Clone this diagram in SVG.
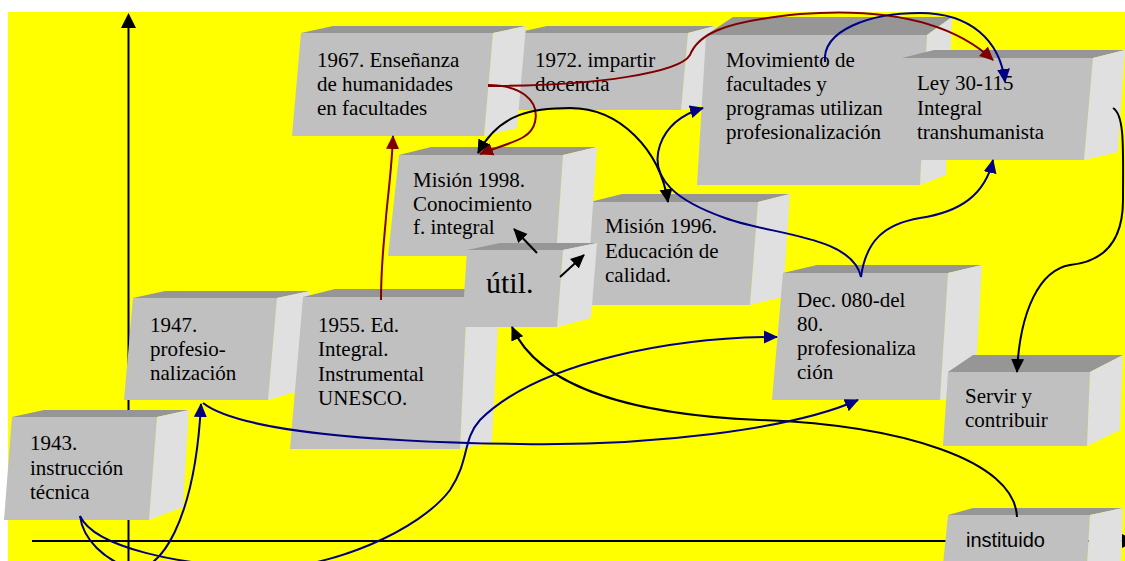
<svg xmlns="http://www.w3.org/2000/svg" width="1125" height="561" viewBox="0 0 1125 561">
<style>
.f{fill:#c0c0c0}
.t{fill:#969696}
.r{fill:#e0e0e0}
.txt{font-family:"Liberation Serif","Times New Roman",serif;font-size:21px;fill:#000}
.c{fill:none;stroke-width:2}
.k{stroke:#000}
.b{stroke:#000080}
.m{stroke:#800000}
.ax{stroke:#000;stroke-width:2;fill:none}
</style>
<defs>
<marker id="ak" viewBox="0 0 14 14" refX="13" refY="7" markerWidth="14" markerHeight="14" markerUnits="userSpaceOnUse" orient="auto-start-reverse"><path d="M0,0.5 L14,7 L0,13.5 z" fill="#000"/></marker>
<marker id="ab" viewBox="0 0 14 14" refX="13" refY="7" markerWidth="14" markerHeight="14" markerUnits="userSpaceOnUse" orient="auto-start-reverse"><path d="M0,0.5 L14,7 L0,13.5 z" fill="#000080"/></marker>
<marker id="am" viewBox="0 0 14 14" refX="13" refY="7" markerWidth="14" markerHeight="14" markerUnits="userSpaceOnUse" orient="auto-start-reverse"><path d="M0,0.5 L14,7 L0,13.5 z" fill="#800000"/></marker>
</defs>
<rect x="0" y="0" width="1125" height="561" fill="#ffffff"/>
<rect x="8" y="12" width="1117" height="549" fill="#ffff00"/>
<g id="axes">
<line class="ax" x1="128.5" y1="26" x2="128.5" y2="561"/>
<polygon points="128.5,13 121,28 136,28" fill="#000"/>
<line class="ax" x1="32" y1="541" x2="1122" y2="541"/>
</g>
<g id="n1972">
<polygon class="t" points="515,33 547,26 715,26 688,33"/>
<polygon class="r" points="688,33 715,26 710,104 681,110"/>
<polygon class="f" points="515,33 688,33 681,110 508,110"/>
<text class="txt" x="535" y="67">1972. impartir<tspan x="535" dy="24">docencia</tspan></text>
</g>
<g id="n1967">
<polygon class="t" points="301,33 333,26 526,26 493,33"/>
<polygon class="r" points="493,33 526,26 517,128 484,136"/>
<polygon class="f" points="301,33 493,33 484,136 292,136"/>
<text class="txt" x="317" y="67">1967. Enseñanza<tspan x="317" dy="24">de humanidades</tspan><tspan x="317" dy="24">en facultades</tspan></text>
</g>
<g id="nMov">
<polygon class="t" points="706,35 733,17 952,17 927,35"/>
<polygon class="r" points="927,35 952,17 946,175 920,185"/>
<polygon class="f" points="706,35 927,35 920,185 697,185"/>
<text class="txt" x="726" y="67">Movimiento de<tspan x="726" dy="24">facultades y</tspan><tspan x="726" dy="24">programas utilizan</tspan><tspan x="726" dy="24">profesionalización</tspan></text>
</g>
<g id="nLey">
<polygon class="t" points="902,58 934,50 1125,50 1093,58"/>
<polygon class="r" points="1093,58 1125,50 1118,152 1084,160"/>
<polygon class="f" points="902,58 1093,58 1084,160 893,160"/>
<text class="txt" x="917" y="90">Ley 30-115<tspan x="917" dy="24.5">Integral</tspan><tspan x="917" dy="24.5">transhumanista</tspan></text>
</g>
<g id="n1996">
<polygon class="t" points="590,202 622,194 790,194 758,202"/>
<polygon class="r" points="758,202 790,194 783,297 750,305"/>
<polygon class="f" points="590,202 758,202 750,305 582,305"/>
<text class="txt" x="605" y="233">Misión 1996.<tspan x="605" dy="24.5">Educación de</tspan><tspan x="605" dy="24.5">calidad.</tspan></text>
</g>
<g id="n1998">
<polygon class="t" points="399,155 431,147 597,147 563,155"/>
<polygon class="r" points="563,155 597,147 590,248 556,256"/>
<polygon class="f" points="399,155 563,155 556,256 388,256"/>
<text class="txt" x="413" y="187">Misión 1998.<tspan x="413" dy="23.5">Conocimiento</tspan><tspan x="413" dy="23.5">f. integral</tspan></text>
</g>
<g id="n1947">
<polygon class="t" points="133,298 165,291 310,291 277,298"/>
<polygon class="r" points="277,298 310,291 302,390 268,400"/>
<polygon class="f" points="133,298 277,298 268,400 124,400"/>
<text class="txt" x="150" y="332">1947.<tspan x="150" dy="24">profesio-</tspan><tspan x="150" dy="24">nalización</tspan></text>
</g>
<g id="n1955">
<polygon class="t" points="303,297 335,289 500,289 467,297"/>
<polygon class="r" points="467,297 500,289 492,442 460,449"/>
<polygon class="f" points="303,297 467,297 460,449 290,449"/>
<text class="txt" x="318" y="332">1955. Ed.<tspan x="318" dy="24.3">Integral.</tspan><tspan x="318" dy="24.3">Instrumental</tspan><tspan x="318" dy="24.3">UNESCO.</tspan></text>
</g>
<g id="nUtil">
<polygon class="t" points="467,250 500,243 597,243 563,250"/>
<polygon class="r" points="563,250 597,243 591,318 557,327"/>
<polygon class="f" points="467,250 563,250 557,327 462,327"/>
<text class="txt" x="486" y="293" style="font-size:30px">útil.</text>
</g>
<g id="n1943">
<polygon class="t" points="12,417 44,410 189,410 157,417"/>
<polygon class="r" points="157,417 189,410 183,507 149,520"/>
<polygon class="f" points="12,417 157,417 149,520 4,520"/>
<text class="txt" x="30" y="450">1943.<tspan x="30" dy="24.5">instrucción</tspan><tspan x="30" dy="24.5">técnica</tspan></text>
</g>
<g id="nDec">
<polygon class="t" points="783,273 817,265 982,265 948,273"/>
<polygon class="r" points="948,273 982,265 975,390 940,400"/>
<polygon class="f" points="783,273 948,273 940,400 772,400"/>
<text class="txt" x="797" y="307">Dec. 080-del<tspan x="797" dy="24">80.</tspan><tspan x="797" dy="24">profesionaliza</tspan><tspan x="797" dy="24">ción</tspan></text>
</g>
<g id="nServir">
<polygon class="t" points="948,372 973,355 1123,355 1090,372"/>
<polygon class="r" points="1090,372 1123,355 1120,430 1087,446"/>
<polygon class="f" points="948,372 1090,372 1087,446 943,446"/>
<text class="txt" x="965" y="403">Servir y<tspan x="965" dy="24">contribuir</tspan></text>
</g>
<g id="nInst">
<polygon class="t" points="948,515 973,508 1123,508 1090,515"/>
<polygon class="r" points="1090,515 1123,508 1121,565 1087,565"/>
<polygon class="f" points="948,515 1090,515 1087,565 943,565"/>
<text x="966" y="547" style="font-family:'Liberation Sans',Arial,sans-serif;font-size:20px;fill:#000">instituido</text>
</g>
<polygon points="1122,534 1137,541 1122,548" fill="#000"/>
<g id="connectors">
<path class="c m" d="M381,300 C381,262 385,232 386,217 C388,195 392,165 393,136" marker-end="url(#am)"/>
<path class="c m" d="M488,85 C520,85 540,100 535,122 C531,140 510,142 480,154" marker-end="url(#am)"/>
<path class="c m" d="M488,86 C600,86 680,72 690,55 C698,35 720,22 800,14 C880,8 950,20 993,60" marker-end="url(#am)"/>
<path class="c b" d="M825,62 C822,30 870,13 920,13 C970,13 1000,40 1005,82" marker-end="url(#ab)"/>
<path class="c k" d="M478,153 C500,112 535,108 570,108 C620,108 660,150 668,202" marker-start="url(#ak)" marker-end="url(#ak)"/>
<path class="c b" d="M861,277 C852,235 770,235 725,218 C680,202 648,180 660,145 C667,125 683,114 703,108" marker-end="url(#ab)"/>
<path class="c b" d="M861,277 C866,240 885,224 920,218 C960,212 985,195 993,160" marker-end="url(#ab)"/>
<path class="c k" d="M1113,108 C1125,115 1123,150 1123,200 C1123,245 1100,262 1070,265 C1040,270 1020,310 1017,372" marker-end="url(#ak)"/>
<path class="c k" d="M1017,517 C1015,460 900,425 760,420 C640,415 540,390 512,327" marker-end="url(#ak)"/>
<path class="c b" d="M80,516 C83,540 105,560 130,568 C160,576 195,520 201,404" marker-end="url(#ab)"/>
<path class="c b" d="M80,516 C95,548 180,565 260,568 C330,570 420,530 450,490 C470,460 462,440 480,420 C540,360 680,337 777,337" marker-end="url(#ab)"/>
<path class="c b" d="M203,403 C240,432 380,442 520,444 C650,446 790,430 858,400" marker-end="url(#ab)"/>
<path class="c k" d="M537,253 L514,229" marker-end="url(#ak)"/>
<path class="c k" d="M560,277 L584,255" marker-end="url(#ak)"/>
</g>
</svg>
